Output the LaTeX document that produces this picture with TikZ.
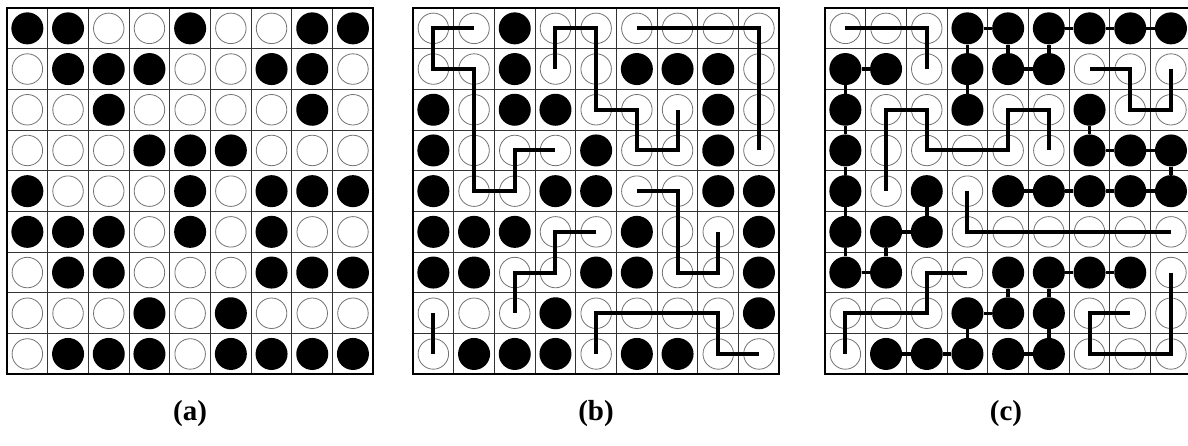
\documentclass[tikz,border=0pt]{standalone}
\usepackage{fontspec}
\setmainfont{Liberation Serif}
\begin{document}
\def\cellsz{40.7}
\def\gridtop{8}
\newcommand\drawgrid[3]{%
  \foreach \k in {1,...,8} {
    \draw[gline] ({#2+\k*\cellsz},\gridtop) -- ++(0,{9*\cellsz});
    \draw[gline] (#2,{\gridtop+\k*\cellsz}) -- ++({9*\cellsz},0);
  }
  \draw[frame] (#2,\gridtop) rectangle ++({9*\cellsz},{9*\cellsz});
  \foreach \row [count=\i] in {#3} {
    \foreach \v [count=\j] in \row {
      \ifnum\v=1
        \node[bstone] (#1-\j-\i) at ({#2+(\j-0.5)*\cellsz},{\gridtop+(\i-0.5)*\cellsz}) {};
      \else
        \node[wstone] (#1-\j-\i) at ({#2+(\j-0.5)*\cellsz},{\gridtop+(\i-0.5)*\cellsz}) {};
      \fi
    }
  }
}
\begin{tikzpicture}[x=1pt,y=-1pt,
  gline/.style={line width=0.9pt,black!80},
  frame/.style={line width=1.8pt,black},
  wstone/.style={circle,minimum size=30.5pt,inner sep=0pt,draw=black!55,line width=0.8pt,fill=white},
  bstone/.style={circle,minimum size=32pt,inner sep=0pt,fill=black},
  wpath/.style={line width=4pt,black,line join=miter},
  bpath/.style={line width=3.5pt,black},
  lab/.style={font=\bfseries\fontsize{29}{31}\selectfont,inner sep=0pt}]
\useasboundingbox (0,0) rectangle (1188,445);
\fill[white] (0,0) rectangle (1188,445);
% (a)
\drawgrid{a}{7}{%
 {1,1,0,0,1,0,0,1,1},
 {0,1,1,1,0,0,1,1,0},
 {0,0,1,0,0,0,0,1,0},
 {0,0,0,1,1,1,0,0,0},
 {1,0,0,0,1,0,1,1,1},
 {1,1,1,0,1,0,1,0,0},
 {0,1,1,0,0,0,1,1,1},
 {0,0,0,1,0,1,0,0,0},
 {0,1,1,1,0,1,1,1,1}}
% (b)
\drawgrid{b}{413}{%
 {0,0,1,0,0,0,0,0,0},
 {0,0,1,0,0,1,1,1,0},
 {1,0,1,1,0,0,0,1,0},
 {1,0,0,0,1,0,0,1,0},
 {1,0,0,1,1,0,0,1,1},
 {1,1,1,0,0,1,0,0,1},
 {1,1,0,0,1,1,0,0,1},
 {0,0,0,1,0,0,0,0,1},
 {0,1,1,1,0,1,1,0,0}}
% (c)
\drawgrid{c}{825}{%
 {0,0,0,1,1,1,1,1,1},
 {1,1,0,1,1,1,0,0,0},
 {1,0,0,1,0,0,1,0,0},
 {1,0,0,0,0,0,1,1,1},
 {1,0,1,0,1,1,1,1,1},
 {1,1,1,0,0,0,0,0,0},
 {1,1,0,0,1,1,1,1,0},
 {0,0,0,1,1,1,0,0,0},
 {0,1,1,1,1,1,0,0,0}}
% paths in (b)
\draw[wpath] (b-2-1.center) -- (b-1-1.center) -- (b-1-2.center) -- (b-2-2.center) -- (b-2-5.center) -- (b-3-5.center) -- (b-3-4.center) -- (b-4-4.center);
\draw[wpath] (b-4-2.center) -- (b-4-1.center) -- (b-5-1.center) -- (b-5-3.center) -- (b-6-3.center) -- (b-6-4.center) -- (b-7-4.center) -- (b-7-3.center);
\draw[wpath] (b-6-1.center) -- (b-9-1.center) -- (b-9-4.center);
\draw[wpath] (b-6-5.center) -- (b-7-5.center) -- (b-7-7.center) -- (b-8-7.center) -- (b-8-6.center);
\draw[wpath] (b-5-6.center) -- (b-4-6.center) -- (b-4-7.center) -- (b-3-7.center) -- (b-3-8.center);
\draw[wpath] (b-1-8.center) -- (b-1-9.center);
\draw[wpath] (b-5-9.center) -- (b-5-8.center) -- (b-8-8.center) -- (b-8-9.center) -- (b-9-9.center);
% white paths in (c)
\draw[wpath] (c-1-1.center) -- (c-3-1.center) -- (c-3-2.center);
\draw[wpath] (c-7-2.center) -- (c-8-2.center) -- (c-8-3.center) -- (c-9-3.center) -- (c-9-2.center);
\draw[wpath] (c-2-5.center) -- (c-2-3.center) -- (c-3-3.center) -- (c-3-4.center) -- (c-5-4.center) -- (c-5-3.center) -- (c-6-3.center) -- (c-6-4.center);
\draw[wpath] (c-4-5.center) -- (c-4-6.center) -- (c-9-6.center);
\draw[wpath] (c-4-7.center) -- (c-3-7.center) -- (c-3-8.center) -- (c-1-8.center) -- (c-1-9.center);
\draw[wpath] (c-9-7.center) -- (c-9-9.center) -- (c-7-9.center) -- (c-7-8.center) -- (c-8-8.center);
% black links in (c)
\draw[bpath] (c-4-1) -- (c-5-1);
\draw[bpath] (c-6-1) -- (c-7-1) -- (c-8-1) -- (c-9-1);
\draw[bpath] (c-4-1) -- (c-4-2) -- (c-4-3);
\draw[bpath] (c-5-1) -- (c-5-2) -- (c-6-2) -- (c-6-1);
\draw[bpath] (c-1-2) -- (c-2-2);
\draw[bpath] (c-1-2) -- (c-1-3) -- (c-1-4) -- (c-1-5) -- (c-1-6) -- (c-1-7);
\draw[bpath] (c-1-7) -- (c-2-7) -- (c-2-6) -- (c-3-6) -- (c-3-5);
\draw[bpath] (c-7-3) -- (c-7-4) -- (c-8-4) -- (c-9-4) -- (c-9-5) -- (c-8-5) -- (c-7-5) -- (c-6-5) -- (c-5-5);
\draw[bpath] (c-6-7) -- (c-7-7) -- (c-8-7);
\draw[bpath] (c-5-7) -- (c-5-8) -- (c-4-8) -- (c-4-9) -- (c-3-9) -- (c-2-9);
\draw[bpath] (c-6-7) -- (c-6-8) -- (c-6-9) -- (c-5-9);
% labels
\node[lab] (la) at (190,414) {(a)};
\node[lab] (lb) at (596,414) {(b)};
\node[lab] (lc) at (1006,414) {(c)};
\end{tikzpicture}
\end{document}
